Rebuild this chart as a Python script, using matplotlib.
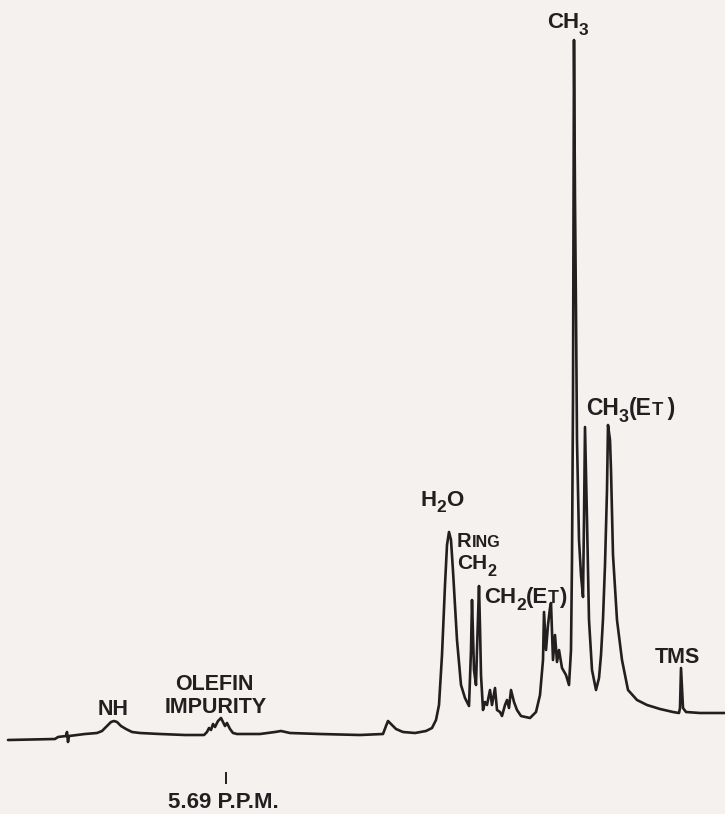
import matplotlib
matplotlib.use("Agg")
import matplotlib.pyplot as plt

# ---- data: 1H NMR trace ----
# chemical shift (ppm, TMS = 0) and recorder deflection (arbitrary units above the left baseline)
shift_ppm = [
    8.4125, 7.825, 7.7875, 7.6875, 7.675, 7.6625, 7.65, 7.45, 7.30, 7.2375,
    7.175, 7.125, 7.0875, 7.05, 7.00, 6.9375, 6.8625, 6.7625, 6.5125, 6.20,
    5.9625, 5.925, 5.90, 5.875, 5.85, 5.825, 5.7875, 5.75, 5.725, 5.70,
    5.675, 5.6375, 5.60, 5.55, 5.2625, 5.075, 5.00, 4.8875, 4.5125, 4.0125,
    3.725, 3.6875, 3.6625, 3.625, 3.5625, 3.475, 3.325, 3.1875, 3.1125, 3.0625,
    3.025, 2.9875, 2.95, 2.925, 2.90, 2.875, 2.85, 2.80, 2.75, 2.70,
    2.65, 2.625, 2.6125, 2.60, 2.5875, 2.5625, 2.55, 2.525, 2.5125, 2.50,
    2.475, 2.45, 2.425, 2.3875, 2.3625, 2.325, 2.30, 2.2625, 2.2375, 2.20,
    2.175, 2.15, 2.125, 2.0875, 2.05, 2.00, 1.8875, 1.8125, 1.7625, 1.725,
    1.7125, 1.6875, 1.6625, 1.6375, 1.625, 1.60, 1.575, 1.55, 1.525, 1.4875,
    1.4375, 1.40, 1.375, 1.3625, 1.35, 1.3375, 1.325, 1.3125, 1.30, 1.275,
    1.25, 1.225, 1.2125, 1.20, 1.175, 1.15, 1.1125, 1.0625, 1.025, 1.00,
    0.975, 0.95, 0.925, 0.9125, 0.8875, 0.875, 0.85, 0.80, 0.7375, 0.6625,
    0.55, 0.425, 0.2625, 0.10, 0.025, 0.0125, 0.00, -0.025, -0.0625, -0.2375,
    -0.55,
]
intensity = [
    0, 1, 3, 4, 8, -2, 4, 6, 7, 9,
    14, 18, 19, 18, 14, 11, 8, 7, 6, 5,
    5, 8, 12, 10, 16, 13, 19, 22, 18, 14,
    17, 11, 7, 6, 6, 8, 9, 7, 6, 5,
    6, 14, 19, 16, 11, 8, 7, 9, 12, 20,
    35, 85, 155, 195, 208, 200, 169, 100, 55, 42,
    34, 90, 140, 106, 70, 55, 90, 154, 113, 65,
    30, 38, 35, 50, 35, 52, 30, 28, 24, 35,
    40, 32, 50, 38, 30, 24, 22, 28, 45, 80,
    128, 90, 115, 132, 137, 80, 105, 78, 90, 72,
    65, 55, 90, 180, 340, 700, 540, 428, 300, 200,
    165, 143, 220, 313, 220, 120, 70, 50, 62, 85,
    121, 175, 250, 315, 300, 270, 185, 120, 80, 50,
    40, 35, 31, 28, 27, 32, 72, 32, 28, 27,
    27,
]
marker_ppm = 5.69
marker_label = "5.69 P.P.M."

W, H = 725, 814
INK = "#231f20"
BG = "#f5f1ee"
FONT = "Liberation Sans"

fig = plt.figure(figsize=(W / 100, H / 100), dpi=100, facecolor=BG)
ax = fig.add_axes([0, 0, 1, 1])
ax.set_facecolor(BG)
ax.plot(shift_ppm, intensity, color=INK, lw=1.9, solid_joinstyle="round", solid_capstyle="round")
ax.set_xlim(8.5125, -0.55)
ax.set_ylim(-74, 740)
ax.axis("off")

# small reference tick under the olefin multiplet
ax.plot([marker_ppm, marker_ppm], [-33, -43], color=INK, lw=1.4)

renderer = fig.canvas.get_renderer()


def rich(x, y, pieces, fs=16):
    """Lay out text pieces left to right; x, y = pixel position of baseline start (from top-left)."""
    cur = x
    for s, scale, dy in pieces:
        t = fig.text(cur / W, 1 - (y + dy) / H, s, fontsize=fs * scale,
                     fontweight="bold", family=FONT, color=INK,
                     ha="left", va="baseline")
        bb = t.get_window_extent(renderer)
        cur += bb.width


SUB = 0.78
SC = 0.8
rich(547, 28, [("CH", 1, 0), ("3", SUB, 7)])
rich(586, 415, [("CH", 1, 0), ("3", SUB, 7), ("(E", 1, 0), ("T", SC, 0), ("\u2009)", 1, 0)], fs=16.5)
rich(420, 506, [("H", 1, 0), ("2", SUB, 6), ("O", 1, 0)])
rich(457, 547, [("R", 1, 0), ("ING", SC, 0)], fs=14.5)
rich(457, 569, [("CH", 1, 0), ("2", SUB, 7)], fs=15)
rich(484, 603, [("CH", 1, 0), ("2", SUB, 7), ("(E", 1, 0), ("T", SC, 0), (")", 1, 0)], fs=16)
rich(655, 663, [("TMS", 1, 0)], fs=15.5)
rich(98, 715, [("NH", 1, 0)], fs=15.5)
rich(175, 690, [("OLEFIN", 1, 0)], fs=15.5)
rich(165, 713, [("IMPURITY", 1, 0)], fs=15.5)
rich(168, 808, [(marker_label, 1, 0)], fs=16)

fig.savefig("out.png", dpi=100, facecolor=BG)
